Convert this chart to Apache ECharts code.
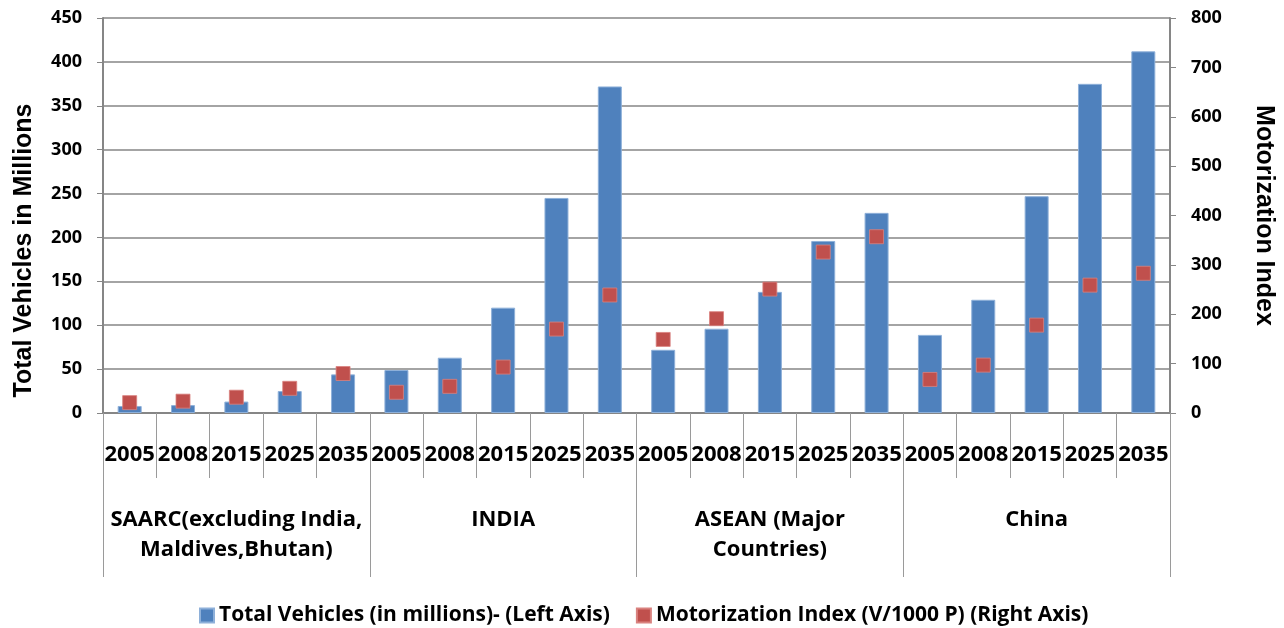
<!DOCTYPE html>
<html>
<head>
<meta charset="utf-8">
<script src="https://cdn.jsdelivr.net/npm/echarts@6/dist/echarts.min.js"></script>
<style>
  html, body { margin: 0; padding: 0; background: #fff; }
  #chart { width: 1284px; height: 628px; }
</style>
</head>
<body>
<div id="chart"></div>
<script>
// Regions and projection years
const regions = ['SAARC(excluding India,\nMaldives,Bhutan)', 'INDIA', 'ASEAN (Major\nCountries)', 'China'];
const years = ['2005', '2008', '2015', '2025', '2035'];

// Total vehicles in millions (left axis), region by region, year by year
const totalVehicles = [
  8, 9, 13, 25, 44,
  49, 63, 120, 245, 372,
  72, 96, 138, 196, 228,
  89, 129, 247, 375, 412
];

// Motorization index, vehicles per 1000 persons (right axis)
const motorizationIndex = [
  21, 24, 32, 50, 80,
  42, 54, 93, 170, 239,
  149, 191, 251, 326, 357,
  68, 97, 178, 259, 283
];

const leftTicks = { min: 0, max: 450, interval: 50 };
const rightTicks = { min: 0, max: 800, interval: 100 };

// One category per region/year pair; the label shows only the year
const categories = [];
regions.forEach((r, i) => years.forEach(y => categories.push(i + '|' + y)));

const lineGrey = '#868686';
const labelFont = '"Open Sans", Lato, sans-serif';

const chart = echarts.init(document.getElementById('chart'), null, { renderer: 'canvas' });
chart.setOption({
  animation: false,
  backgroundColor: '#ffffff',
  grid: { left: 103, right: 112, top: 18, bottom: 215, containLabel: false },
  legend: {
    left: 194,
    top: 600,
    itemWidth: 14,
    itemHeight: 14,
    itemGap: 26,
    textStyle: { fontFamily: labelFont, fontWeight: 'bold', fontSize: 21, color: '#000' },
    data: [
      { name: 'Total Vehicles (in millions)- (Left Axis)', icon: 'rect' },
      { name: 'Motorization Index (V/1000 P) (Right Axis)', icon: 'rect' }
    ]
  },
  xAxis: [
    {
      type: 'category',
      data: categories,
      position: 'bottom',
      boundaryGap: true,
      axisLine: { show: true, lineStyle: { color: lineGrey, width: 2 } },
      axisTick: { show: true, interval: 0, length: 65, lineStyle: { color: '#9a9a9a', width: 1 } },
      axisLabel: {
        interval: 0,
        margin: 42,
        verticalAlign: 'middle',
        formatter: v => v.split('|')[1],
        fontFamily: labelFont, fontWeight: 'bold', fontSize: 22, color: '#000'
      },
      splitLine: { show: false }
    },
    {
      type: 'category',
      data: regions,
      position: 'bottom',
      boundaryGap: true,
      axisLine: { show: false },
      axisTick: { show: true, interval: 0, length: 164, lineStyle: { color: '#9a9a9a', width: 1 } },
      axisLabel: {
        interval: 0,
        margin: 92,
        lineHeight: 30,
        fontFamily: labelFont, fontWeight: 'bold', fontSize: 22, color: '#000'
      },
      splitLine: { show: false }
    }
  ],
  yAxis: [
    {
      type: 'value',
      position: 'left',
      min: leftTicks.min, max: leftTicks.max, interval: leftTicks.interval,
      name: 'Total Vehicles in Millions',
      nameLocation: 'middle',
      nameRotate: 90,
      nameGap: 66,
      nameTextStyle: {
        fontFamily: '"Liberation Sans", Arial, sans-serif', fontWeight: 'bold', fontSize: 25, color: '#000',
        padding: [0, 70, 0, 0]
      },
      axisLine: { show: true, lineStyle: { color: lineGrey, width: 2 } },
      axisTick: { show: true, length: 6, lineStyle: { color: lineGrey, width: 1 } },
      axisLabel: { margin: 21, fontFamily: labelFont, fontWeight: 'bold', fontSize: 18, color: '#000' },
      splitLine: { show: true, lineStyle: { color: lineGrey, width: 1.5 } }
    },
    {
      type: 'value',
      position: 'right',
      min: rightTicks.min, max: rightTicks.max, interval: rightTicks.interval,
      name: 'Motorization Index',
      nameLocation: 'middle',
      nameRotate: -90,
      nameGap: 81,
      nameTextStyle: {
        fontFamily: '"Liberation Sans", Arial, sans-serif', fontWeight: 'bold', fontSize: 25, color: '#000'
      },
      axisLine: { show: true, lineStyle: { color: lineGrey, width: 2 } },
      axisTick: { show: true, length: 6, lineStyle: { color: lineGrey, width: 1 } },
      axisLabel: { margin: 21, fontFamily: labelFont, fontWeight: 'bold', fontSize: 18, color: '#000' },
      splitLine: { show: false }
    }
  ],
  series: [
    {
      name: 'Total Vehicles (in millions)- (Left Axis)',
      type: 'bar',
      xAxisIndex: 0,
      yAxisIndex: 0,
      data: totalVehicles,
      barWidth: 24,
      itemStyle: { color: '#4F81BD', borderColor: '#8eb0d9', borderWidth: 1 },
      z: 2
    },
    {
      name: 'Motorization Index (V/1000 P) (Right Axis)',
      type: 'scatter',
      xAxisIndex: 0,
      yAxisIndex: 1,
      data: motorizationIndex,
      symbol: 'rect',
      symbolSize: 14,
      itemStyle: { color: '#C0504D', borderColor: '#d9827f', borderWidth: 0.8, opacity: 1 },
      z: 3
    }
  ]
});
</script>
</body>
</html>
